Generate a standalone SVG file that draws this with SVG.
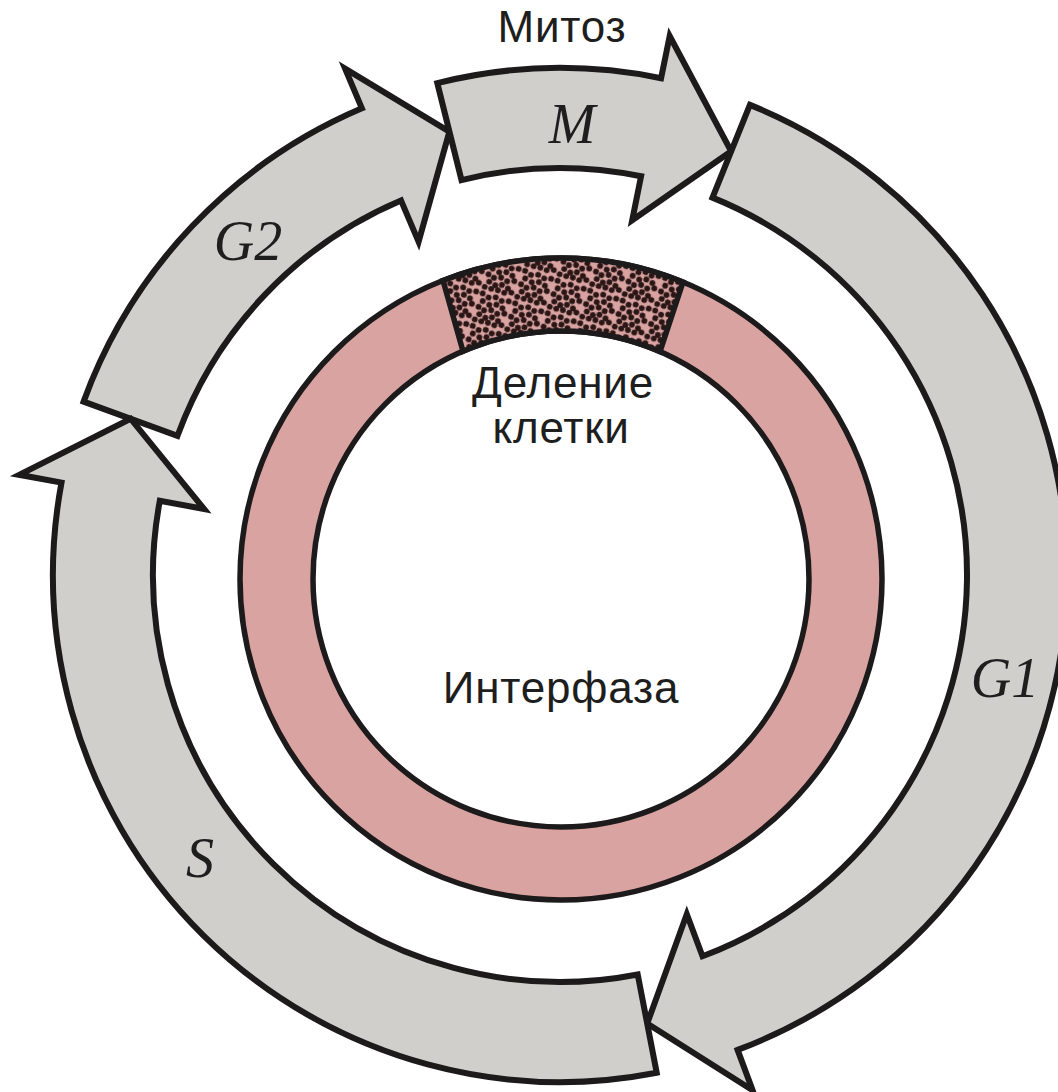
<svg xmlns="http://www.w3.org/2000/svg" width="1058" height="1092" viewBox="0 0 1058 1092">
  <style>
    .phase { fill: #d1cfcb; stroke: #1c1a1a; stroke-width: 6; stroke-linejoin: miter; stroke-miterlimit: 10; }
    .ring { fill: #d9a3a1; stroke: #1c1a1a; stroke-width: 5.5; }
    .hole { fill: #ffffff; stroke: #1c1a1a; stroke-width: 5.5; }
    .sector { stroke: #1c1a1a; stroke-width: 5.5; stroke-linejoin: miter; }
    .sans { font-family: "Liberation Sans", Arial, sans-serif; font-size: 44px; fill: #1e1e1e; text-anchor: middle; letter-spacing: 0.8px; }
    .phase-label { font-family: "Liberation Serif", "Times New Roman", serif; font-style: italic; font-size: 56px; fill: #1e1e1e; text-anchor: middle; }
  </style>
  <defs>
    <pattern id="dots" width="34" height="34" patternUnits="userSpaceOnUse" patternTransform="rotate(17)">
      <rect width="34" height="34" fill="#d9a3a1"/>
      <g fill="#2b1616" transform="scale(1.1333)">
        <circle cx="3" cy="3" r="2.6"/><circle cx="9" cy="5" r="2.6"/><circle cx="15" cy="3" r="2.6"/><circle cx="21" cy="4.5" r="2.6"/><circle cx="27" cy="3" r="2.6"/>
        <circle cx="5" cy="9.5" r="2.6"/><circle cx="11.5" cy="11" r="2.6"/><circle cx="17.5" cy="9" r="2.6"/><circle cx="23.5" cy="10.5" r="2.6"/>
        <circle cx="3" cy="15.5" r="2.6"/><circle cx="8.5" cy="17" r="2.6"/><circle cx="14.5" cy="15" r="2.6"/><circle cx="20.5" cy="16.5" r="2.6"/><circle cx="26.5" cy="14.5" r="2.6"/>
        <circle cx="5.5" cy="21.5" r="2.6"/><circle cx="11.5" cy="23" r="2.6"/><circle cx="17" cy="21" r="2.6"/><circle cx="23" cy="22.5" r="2.6"/>
        <circle cx="3" cy="27" r="2.6"/><circle cx="9" cy="27" r="2.6"/><circle cx="15" cy="26.5" r="2.6"/><circle cx="21" cy="27" r="2.6"/><circle cx="27" cy="25" r="2.6"/>
      </g>
    </pattern>
  </defs>

  <!-- cell cycle ring: interphase with the division sector on top -->
  <g id="interphase">
    <circle class="ring" cx="561" cy="579" r="321"/>
    <circle class="hole" cx="561" cy="579" r="248"/>
  </g>
  <g id="division">
    <path class="sector" fill="url(#dots)" d="M 443 280.5 A 321 321 0 0 1 683 282 L 660 351.6 A 248 248 0 0 0 463 351.2 Z"/>
  </g>

  <!-- phase arrows around the ring, centre (560,575), band radii 407..507 -->
  <g id="phases">
    <g id="phase-g2">
      <path class="phase" d="M 83.6 401.6 A 507 507 0 0 1 361.9 108.3 L 345.1 68.7 L 449.4 131.6 L 418.6 241.8 L 401 200.4 A 407 407 0 0 0 177.5 435.8 Z"/>
      <text class="phase-label" x="248" y="260">G2</text>
    </g>
    <g id="phase-m">
      <path class="phase" d="M 437.3 83.1 A 507 507 0 0 1 661.1 78.2 L 669.7 36 L 731.2 151.3 L 632.2 220.3 L 641.1 176.2 A 407 407 0 0 0 461.5 180.1 Z"/>
      <text class="phase-label" x="572" y="143">M</text>
    </g>
    <g id="phase-g1">
      <path class="phase" d="M 749.9 104.9 A 507 507 0 0 1 737.6 1049.9 L 752.6 1090.2 L 647.2 1023.6 L 686.8 914.1 L 702.5 956.2 A 407 407 0 0 0 712.5 197.6 Z"/>
      <text class="phase-label" x="1005" y="697">G1</text>
    </g>
    <g id="phase-s">
      <path class="phase" d="M 656.7 1072.7 A 507 507 0 0 1 61.5 482.6 L 19.2 474.8 L 130.6 418.7 L 204.1 509 L 159.8 500.8 A 407 407 0 0 0 637.7 974.5 Z"/>
      <text class="phase-label" x="200" y="877">S</text>
    </g>
  </g>

  <g id="labels">
    <text class="sans" x="562" y="42">Митоз</text>
    <text class="sans" x="563" y="398">Деление</text>
    <text class="sans" x="561" y="443">клетки</text>
    <text class="sans" x="561" y="703">Интерфаза</text>
  </g>
</svg>
